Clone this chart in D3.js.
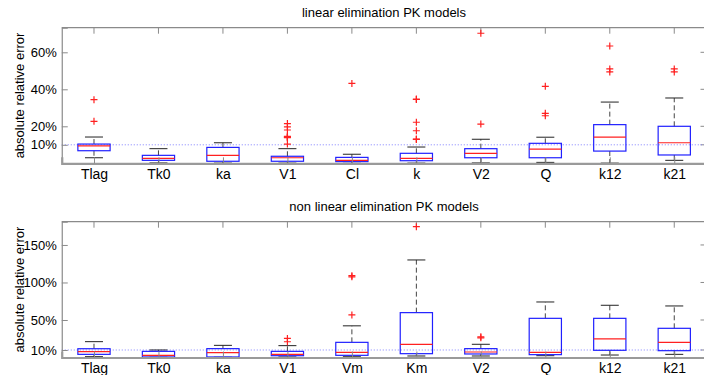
<!DOCTYPE html>
<html>
<head>
<meta charset="utf-8">
<script src="https://cdn.jsdelivr.net/npm/d3@7"></script>
<style>
  body { margin: 0; background: #fff; }
  svg { display: block; font-family: "Liberation Sans", Arial, Helvetica, sans-serif; }
</style>
</head>
<body>
<div id="chart"></div>
<script>
// linear elimination PK models
const linCats = ["Tlag", "Tk0", "ka", "V1", "Cl", "k", "V2", "Q", "k12", "k21"];
const linLo  = [0.030, 0.002, 0.001, 0.001, 0.000, 0.001, 0.002, 0.005, 0.001, 0.016];
const linQ1  = [0.068, 0.016, 0.011, 0.011, 0.009, 0.014, 0.030, 0.030, 0.066, 0.045];
const linMed = [0.094, 0.027, 0.043, 0.030, 0.016, 0.027, 0.054, 0.077, 0.142, 0.111];
const linQ3  = [0.104, 0.043, 0.086, 0.038, 0.032, 0.054, 0.079, 0.108, 0.209, 0.200];
const linHi  = [0.142, 0.079, 0.111, 0.079, 0.049, 0.088, 0.130, 0.141, 0.331, 0.353];
const linOut = [
  [0.344, 0.227],
  [],
  [],
  [0.215, 0.197, 0.180, 0.146, 0.143, 0.140, 0.138, 0.104],
  [0.432],
  [0.347, 0.345, 0.222, 0.176, 0.131, 0.129],
  [0.703, 0.212],
  [0.416, 0.270, 0.257],
  [0.634, 0.510, 0.494],
  [0.510, 0.494]
];
const linTicks = [0.1, 0.2, 0.4, 0.6];

// non linear elimination PK models
const nlCats = ["Tlag", "Tk0", "ka", "V1", "Vm", "Km", "V2", "Q", "k12", "k21"];
const nlLo  = [0.011, 0.003, 0.003, 0.007, 0.010, 0.020, 0.020, 0.024, 0.033, 0.042];
const nlQ1  = [0.042, 0.007, 0.007, 0.024, 0.029, 0.051, 0.047, 0.038, 0.096, 0.091];
const nlMed = [0.078, 0.029, 0.064, 0.042, 0.069, 0.176, 0.073, 0.069, 0.247, 0.202];
const nlQ3  = [0.117, 0.082, 0.118, 0.082, 0.202, 0.598, 0.118, 0.522, 0.522, 0.389];
const nlHi  = [0.211, 0.100, 0.162, 0.158, 0.422, 1.300, 0.176, 0.740, 0.696, 0.687];
const nlOut = [
  [],
  [],
  [],
  [0.254, 0.210],
  [1.090, 1.075, 0.568],
  [1.744],
  [0.275, 0.262],
  [],
  [],
  []
];
const nlTicks = [0.1, 0.5, 1.0, 1.5];

const W = 704, H = 375;
const svg = d3.select("#chart").append("svg")
  .attr("width", W)
  .attr("height", H);

const axisColor = "#8a8a8a";

function drawPanel(opt) {
  const cats = opt.cats;
  const x = d3.scalePoint().domain(cats).range([61.75, 706.5]).padding(0.5);
  const y = d3.scaleLinear().domain(opt.domain).range([opt.bottom, opt.top]);
  const bw = x.step() * 0.5;
  const cw = 18;
  const g = svg.append("g");

  // frame top / right
  g.append("line").attr("x1", x.range()[0]).attr("x2", x.range()[1])
    .attr("y1", opt.top).attr("y2", opt.top)
    .attr("stroke", axisColor).attr("stroke-width", 1.2);
  g.append("line").attr("x1", x.range()[1]).attr("x2", x.range()[1])
    .attr("y1", opt.top).attr("y2", opt.bottom)
    .attr("stroke", axisColor).attr("stroke-width", 1.2);

  // top ticks
  g.append("g").selectAll("line").data(cats).join("line")
    .attr("x1", d => x(d)).attr("x2", d => x(d))
    .attr("y1", opt.top).attr("y2", opt.top + 6)
    .attr("stroke", axisColor);
  // right ticks
  g.append("g").selectAll("line").data(opt.ticks).join("line")
    .attr("x1", x.range()[1]).attr("x2", x.range()[1] - 6)
    .attr("y1", d => y(d)).attr("y2", d => y(d))
    .attr("stroke", axisColor);

  // 10% reference line
  g.append("line")
    .attr("x1", x.range()[0]).attr("x2", x.range()[1])
    .attr("y1", y(0.1)).attr("y2", y(0.1))
    .attr("stroke", "#7f7fff").attr("stroke-width", 1)
    .attr("stroke-dasharray", "1,2");

  // y axis
  const yAxis = g.append("g")
    .attr("transform", `translate(${x.range()[0]},0)`)
    .call(d3.axisLeft(y).tickValues(opt.ticks).tickFormat(d => Math.round(d * 100) + "%")
      .tickSize(-6).tickPadding(5));
  yAxis.select(".domain").attr("stroke", axisColor).attr("stroke-width", 1.2);
  yAxis.selectAll(".tick line").attr("stroke", axisColor);
  yAxis.selectAll("text").attr("font-size", 13).attr("fill", "#000");

  // boxes
  const box = g.append("g").selectAll("g").data(cats).join("g");
  box.append("line") // upper whisker
    .attr("x1", d => x(d)).attr("x2", d => x(d))
    .attr("y1", (d, i) => y(opt.q3[i])).attr("y2", (d, i) => y(opt.hi[i]))
    .attr("stroke", "#444").attr("stroke-dasharray", "5,3");
  box.append("line") // lower whisker
    .attr("x1", d => x(d)).attr("x2", d => x(d))
    .attr("y1", (d, i) => y(opt.q1[i])).attr("y2", (d, i) => y(opt.lo[i]))
    .attr("stroke", "#444").attr("stroke-dasharray", "5,3");
  box.append("line")
    .attr("x1", d => x(d) - cw / 2).attr("x2", d => x(d) + cw / 2)
    .attr("y1", (d, i) => y(opt.hi[i])).attr("y2", (d, i) => y(opt.hi[i]))
    .attr("stroke", "#222");
  box.append("line")
    .attr("x1", d => x(d) - cw / 2).attr("x2", d => x(d) + cw / 2)
    .attr("y1", (d, i) => y(opt.lo[i])).attr("y2", (d, i) => y(opt.lo[i]))
    .attr("stroke", "#222");
  box.append("rect")
    .attr("x", d => x(d) - bw / 2)
    .attr("width", bw)
    .attr("y", (d, i) => y(opt.q3[i]))
    .attr("height", (d, i) => y(opt.q1[i]) - y(opt.q3[i]))
    .attr("fill", "#fff").attr("fill-opacity", 0)
    .attr("stroke", "#2020ff").attr("stroke-width", 1.2);
  box.append("line")
    .attr("x1", d => x(d) - bw / 2).attr("x2", d => x(d) + bw / 2)
    .attr("y1", (d, i) => y(opt.med[i])).attr("y2", (d, i) => y(opt.med[i]))
    .attr("stroke", "#ff2020").attr("stroke-width", 1.2);

  // outliers
  const pts = [];
  cats.forEach((c, i) => opt.out[i].forEach(v => pts.push([c, v])));
  g.append("g").selectAll("path").data(pts).join("path")
    .attr("d", d => `M${x(d[0]) - 3.5},${y(d[1])}h7M${x(d[0])},${y(d[1]) - 3.5}v7`)
    .attr("stroke", "#ff2020").attr("stroke-width", 1.2).attr("fill", "none");

  // bottom axis
  const xAxis = g.append("g")
    .attr("transform", `translate(0,${opt.bottom})`)
    .call(d3.axisBottom(x).tickSize(-6).tickPadding(6));
  xAxis.select(".domain").attr("stroke", "#9a9a9a").attr("stroke-width", 2.2);
  xAxis.selectAll(".tick line").attr("stroke", axisColor);
  xAxis.selectAll("text").attr("font-size", 14).attr("fill", "#000");

  // title and y label
  svg.append("text")
    .attr("x", 384).attr("y", opt.titleY)
    .attr("text-anchor", "middle").attr("font-size", 13)
    .text(opt.title);
  svg.append("text")
    .attr("transform", `translate(24,${(opt.top + opt.bottom) / 2}) rotate(-90)`)
    .attr("text-anchor", "middle").attr("font-size", 13)
    .text("absolute relative error");
}

drawPanel({
  cats: linCats, lo: linLo, q1: linQ1, med: linMed, q3: linQ3, hi: linHi, out: linOut,
  ticks: linTicks, domain: [0, 0.733], top: 27.7, bottom: 163.3,
  title: "linear elimination PK models", titleY: 17
});
drawPanel({
  cats: nlCats, lo: nlLo, q1: nlQ1, med: nlMed, q3: nlQ3, hi: nlHi, out: nlOut,
  ticks: nlTicks, domain: [0, 1.81], top: 221.7, bottom: 357.5,
  title: "non linear elimination PK models", titleY: 211
});
</script>
</body>
</html>
